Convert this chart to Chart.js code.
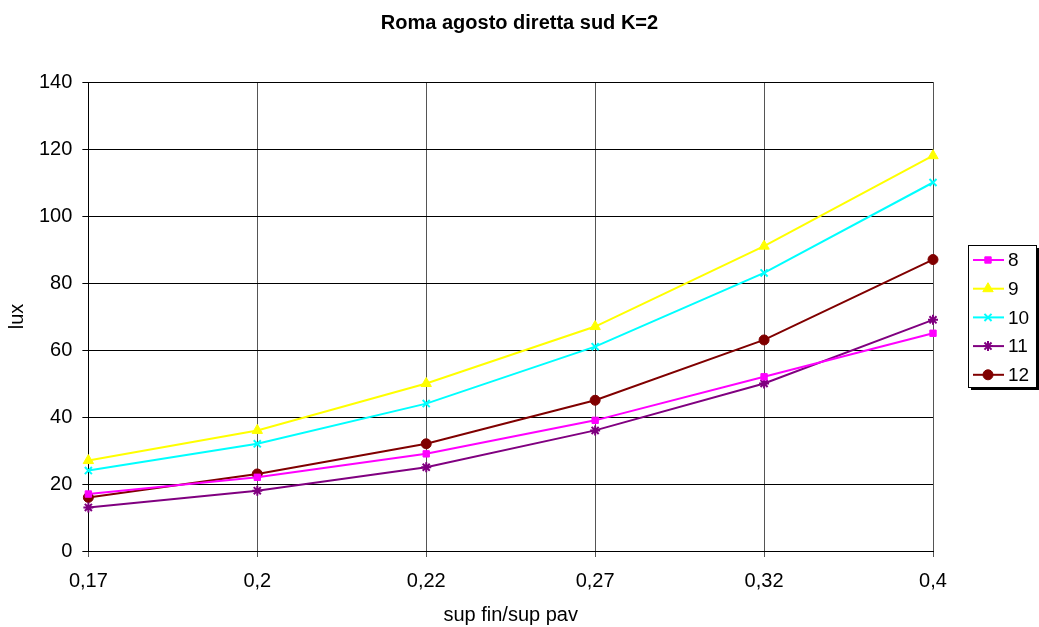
<!DOCTYPE html>
<html>
<head>
<meta charset="utf-8">
<script src="https://cdn.jsdelivr.net/npm/chart.js@4"></script>
<style>
  html,body{margin:0;padding:0;background:#fff;}
  #wrap{width:1039px;height:627px;}
</style>
</head>
<body>
<div id="wrap"><canvas id="c" width="1039" height="627"></canvas></div>
<script>
/* ---------- DATA ---------- */
const chartTitle = 'Roma agosto diretta sud K=2';
const categories = ['0,17','0,2','0,22','0,27','0,32','0,4'];
const seriesNames = ['8','9','10','11','12'];
const s8  = [17, 22, 29, 39, 52, 65];
const s9  = [27, 36, 50, 67, 91, 118];
const s10 = [24, 32, 44, 61, 83, 110];
const s11 = [13, 18, 25, 36, 50, 69];
const s12 = [16, 23, 32, 45, 63, 87];
const yTicks = [0,20,40,60,80,100,120,140];

const colors = ['#FF00FF','#FFFF00','#00FFFF','#800080','#800000'];
const styles = ['rect','triangle','crossRot','star','circle'];
const radii  = [4.5, 6, 5, 5, 5];
const allSeries = [s8,s9,s10,s11,s12];

const FONT = '"Liberation Sans", Arial, sans-serif';

const datasets = allSeries.map((d,i)=>({
  label: seriesNames[i], data: d,
  borderColor: colors[i], backgroundColor: colors[i],
  borderWidth: 2, pointStyle: styles[i],
  pointRadius: radii[i],
  pointBorderWidth: (styles[i]==='crossRot'||styles[i]==='star')?2:1,
  tension: 0
}));

/* title centred on the canvas + boxed legend (with shadow) showing line + marker */
const decor = {
  id:'decor',
  afterDraw(chart){
    const ctx = chart.ctx;
    ctx.save();
    ctx.fillStyle = '#000'; ctx.font = 'bold 20px '+FONT;
    ctx.textAlign = 'center'; ctx.textBaseline = 'middle';
    ctx.fillText(chartTitle, chart.width/2, 23);

    const x0 = 968, y0 = 245, w = 68, h = 142;
    ctx.fillStyle = '#000';
    ctx.fillRect(x0+3, y0+3, w, h);
    ctx.fillStyle = '#fff';
    ctx.fillRect(x0, y0, w, h);
    ctx.strokeStyle = '#000'; ctx.lineWidth = 1;
    ctx.strokeRect(x0+0.5, y0+0.5, w, h);
    chart.data.datasets.forEach((ds,i)=>{
      const y = y0 + 15 + i*28.7;
      ctx.strokeStyle = ds.borderColor; ctx.lineWidth = 2;
      ctx.beginPath(); ctx.moveTo(x0+5,y); ctx.lineTo(x0+36,y); ctx.stroke();
      ctx.fillStyle = ds.borderColor; ctx.lineWidth = ds.pointBorderWidth;
      Chart.helpers.drawPoint(ctx,{pointStyle:ds.pointStyle,radius:ds.pointRadius,borderWidth:ds.pointBorderWidth},x0+20,y);
      ctx.fillStyle = '#000'; ctx.font = '19px '+FONT;
      ctx.textBaseline = 'middle'; ctx.textAlign='left';
      ctx.fillText(ds.label, x0+40, y+1);
    });
    ctx.restore();
  }
};

new Chart(document.getElementById('c'),{
  type:'line',
  data:{labels:categories, datasets},
  options:{
    responsive:false, animation:false,
    layout:{padding:{left:1,right:106,top:82,bottom:0}},
    plugins:{
      legend:{display:false},
      tooltip:{enabled:false},
      title:{display:false}
    },
    scales:{
      x:{
        offset:false,
        grid:{color:'#555',lineWidth:1,tickLength:6,drawTicks:true},
        border:{color:'#000'},
        ticks:{color:'#000',font:{family:FONT,size:20,lineHeight:1},padding:14,maxRotation:0},
        title:{display:true,text:'sup fin/sup pav',color:'#000',font:{family:FONT,size:20,lineHeight:1},padding:{top:0,bottom:2}}
      },
      y:{
        min:0,max:140,
        afterBuildTicks(axis){ axis.ticks = yTicks.map(v=>({value:v})); },
        grid:{color:'#000',lineWidth:1,tickLength:6},
        border:{color:'#000'},
        ticks:{color:'#000',font:{family:FONT,size:20},padding:10},
        title:{display:true,text:'lux',color:'#000',font:{family:FONT,size:20},padding:{top:4,bottom:0}}
      }
    }
  },
  plugins:[decor]
});
</script>
</body>
</html>
